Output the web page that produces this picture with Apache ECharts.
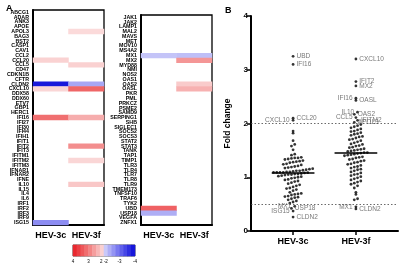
<!DOCTYPE html>
<html>
<head>
<meta charset="utf-8">
<script src="https://cdn.jsdelivr.net/npm/echarts@6/dist/echarts.min.js"></script>
<style>
  html, body { margin: 0; padding: 0; background: #fff; }
  #chart { width: 400px; height: 266px; }
</style>
</head>
<body>
<div id="chart"></div>
<script>
const strains = ["HEV-3c", "HEV-3f"];

const genesA = ["ABCG1", "ADAR", "ANK3", "APOE", "APOL3", "BAG3", "BST2", "CASP1", "CAV1", "CCL2",
  "CCL20", "CCL5", "CD47", "CDKN1B", "CFTR", "CLDN2", "CXCL10", "DDX58", "DDX60", "ETV7",
  "GBP1", "HERC1", "IFI16", "IFI27", "IFI30", "IFI44", "IFIH1", "IFIT1", "IFIT2", "IFIT3",
  "IFITM1", "IFITM2", "IFITM3", "IFNAR1", "IFNAR2", "IFNE", "IL10", "IL15", "IL4", "IL6",
  "IRF1", "IRF2", "IRF3", "IRF9", "ISG15"];

const genesB = ["JAK1", "JAK2", "LAMP1", "MAL2", "MAVS", "MET", "MOV10", "MS4A2", "MX1", "MX2",
  "MYD88", "NMI", "NOS2", "OAS1", "OAS2", "OASL", "PKR", "PML", "PRKCZ", "PSME2",
  "SAMD9", "SERPING1", "SHB", "SIGLEC1", "SOCS2", "SOCS3", "STAT2", "STAT3", "TANK", "TAP1",
  "TIMP1", "TLR3", "TLR4", "TLR7", "TLR8", "TLR9", "TMEM173", "TNFSF10", "TRAF6", "TYK2",
  "UBD", "USP18", "VEGFA", "ZNFX1"];

// genes past the cut-offs (fold change), these get labels and colour
const hits3c = { UBD: 3.25, IFI16: 3.1, CCL20: 2.1, CXCL10: 2.06,
  MX1: 0.46, USP18: 0.42, ISG15: 0.37, CLDN2: 0.26 };
const hits3f = { CXCL10: 3.2, IFIT2: 2.78, MX2: 2.7, IFI16: 2.47, OASL: 2.43, IL10: 2.21,
  OAS2: 2.17, CCL5: 2.11, IFITM2: 2.06, APOL3: 2.02, MX1: 0.45, CLDN2: 0.41 };

// all other genes (fold change)
const rest3c = [1.86, 1.82, 1.68, 1.61, 1.58, 1.51, 1.43, 1.41, 1.37, 1.36, 1.36, 1.35, 1.34, 1.33,
  1.31, 1.30, 1.29, 1.28, 1.27, 1.25, 1.24, 1.23, 1.21, 1.20, 1.19, 1.18, 1.17, 1.16, 1.15, 1.14,
  1.13, 1.12, 1.12, 1.11, 1.10, 1.10, 1.09, 1.09, 1.09, 1.09, 1.085,
  1.08, 1.07, 1.06, 1.06, 1.05, 1.05, 1.04, 1.03, 1.02, 1.01, 1.00, 0.99, 0.98, 0.96, 0.95,
  0.93, 0.92, 0.90, 0.88, 0.86, 0.84, 0.82, 0.80, 0.79, 0.77, 0.75, 0.72, 0.70, 0.69, 0.68,
  0.67, 0.65, 0.64, 0.63, 0.62, 0.60, 0.58, 0.56, 0.54, 0.52];
const rest3f = [1.98, 1.96, 1.94, 1.92, 1.90, 1.88, 1.86, 1.85, 1.83, 1.81, 1.80, 1.78, 1.76, 1.75,
  1.73, 1.71, 1.70, 1.68, 1.66, 1.64, 1.62, 1.61, 1.59, 1.58, 1.56, 1.55, 1.53, 1.52, 1.51, 1.50,
  1.49, 1.48, 1.46, 1.46, 1.45,
  1.44, 1.43, 1.42, 1.41, 1.40, 1.38, 1.37, 1.36, 1.34, 1.33, 1.31, 1.30, 1.28, 1.27, 1.25,
  1.24, 1.22, 1.20, 1.19, 1.17, 1.15, 1.14, 1.12, 1.10, 1.08, 1.06, 1.05, 1.03, 1.01, 0.99,
  0.97, 0.95, 0.93, 0.91, 0.89, 0.87, 0.84, 0.80, 0.72, 0.68, 0.60, 0.58];

const cutoffs = [2, 0.5];

// colour key
const keySteps = [3.875, 3.625, 3.375, 3.125, 2.875, 2.625, 2.375, 2.125,
  -2.125, -2.375, -2.625, -2.875, -3.125, -3.375, -3.625, -3.875];
const keyTicks = { "4": "4", "2": "3", "0": "2 -2", "-2": "-3", "-4": "-4" };

const labelLeft3c = ["CXCL10", "MX1", "ISG15"];
const labelLeft3f = ["IFI16", "IL10", "CCL5", "MX1"];

const FONT = "Liberation Sans, Arial, sans-serif";
const BIN = 0.075;
const STEP = 0.052;

// fold change -> heat value (up: fold, down: -1/fold)
function heat(f) {
  return f >= 1 ? f : -1 / f;
}

function heatCells(genes) {
  const out = [];
  [hits3c, hits3f].forEach((hits, col) => {
    genes.forEach((g, row) => {
      if (hits[g] !== undefined) out.push([col, row, +heat(hits[g]).toFixed(2)]);
    });
  });
  return out;
}

// simple beeswarm: points in the same value row are spread sideways
function swarm(hits, rest, center, leftNames) {
  const pts = Object.keys(hits).map((k) => ({ name: k, v: hits[k] }))
    .concat(rest.map((v) => ({ name: "", v: v })));
  pts.sort((a, b) => a.v - b.v);
  const rows = {};
  pts.forEach((p) => {
    const k = Math.round(p.v / BIN);
    (rows[k] = rows[k] || []).push(p);
  });
  const out = [];
  Object.keys(rows).forEach((k) => {
    const row = rows[k];
    row.forEach((p, i) => {
      const item = { name: p.name, value: [center + (i - (row.length - 1) / 2) * STEP, p.v] };
      if (p.name) {
        item.label = {
          show: true,
          position: leftNames.indexOf(p.name) >= 0 ? "left" : "right",
          distance: 2,
          formatter: "{b}",
          fontSize: 6.5,
          color: "#555",
          fontFamily: FONT,
        };
      }
      out.push(item);
    });
  });
  return out;
}

function median(hits, rest) {
  const all = Object.values(hits).concat(rest).sort((a, b) => a - b);
  const m = Math.floor(all.length / 2);
  return all.length % 2 ? all[m] : (all[m - 1] + all[m]) / 2;
}

function medianLine(c, m) {
  return {
    silent: true,
    symbol: "none",
    label: { show: false },
    lineStyle: { color: "#000", width: 1.5, type: "solid" },
    data: [[{ coord: [c - 0.34, m] }, { coord: [c + 0.34, m] }]],
  };
}

const heatAxisX = (gi) => ({
  type: "category",
  gridIndex: gi,
  data: strains,
  axisLine: { lineStyle: { color: "#000", width: 2 } },
  axisTick: { alignWithLabel: true, length: 4, lineStyle: { color: "#000", width: 1.5 } },
  axisLabel: { color: "#000", fontSize: 9, fontWeight: "bold", fontFamily: FONT, margin: 6, interval: 0, hideOverlap: false },
});

const heatAxisY = (gi, genes) => ({
  type: "category",
  gridIndex: gi,
  data: genes,
  inverse: true,
  axisLine: { lineStyle: { color: "#000", width: 2 } },
  axisTick: { alignWithLabel: true, length: 3, lineStyle: { color: "#000", width: 1.3 } },
  axisLabel: { color: "#000", fontSize: 5.3, fontWeight: "bold", fontFamily: FONT, interval: 0, margin: 4 },
});

const myChart = echarts.init(document.getElementById("chart"), null, { renderer: "canvas" });

myChart.setOption({
  animation: false,
  backgroundColor: "#fff",
  title: [
    { text: "A", left: 1, top: -1, textStyle: { fontSize: 9, fontWeight: "bold", fontFamily: FONT, color: "#000" } },
    { text: "B", left: 220, top: 1, textStyle: { fontSize: 9, fontWeight: "bold", fontFamily: FONT, color: "#000" } },
  ],
  grid: [
    { left: 33, top: 10, width: 71, height: 215, show: true, borderColor: "#000", borderWidth: 1.3 },
    { left: 141, top: 15, width: 71, height: 210, show: true, borderColor: "#000", borderWidth: 1.3 },
    { left: 73, top: 245, width: 62, height: 11, show: true, borderColor: "#222", borderWidth: 0.8 },
    { left: 251, top: 16, width: 147, height: 215 },
  ],
  visualMap: {
    show: false,
    seriesIndex: [0, 1, 2],
    min: -4,
    max: 4,
    inRange: {
      color: ["#0a0ad8", "#6c6cee", "#d6d6fa", "#ffffff", "#ffffff", "#ffffff", "#fbdcdc", "#f17878", "#e81c24"],
    },
  },
  xAxis: [
    heatAxisX(0),
    heatAxisX(1),
    { type: "category", gridIndex: 2, data: keySteps.map((v, i) => i), show: false },
    {
      type: "value",
      gridIndex: 2,
      position: "bottom",
      min: -4,
      max: 4,
      interval: 2,
      inverse: true,
      axisLine: { show: false },
      axisTick: { show: false },
      splitLine: { show: false },
      axisLabel: {
        fontSize: 4.5,
        color: "#000",
        fontFamily: FONT,
        margin: 3,
        formatter: (v) => keyTicks[String(v)],
      },
    },
    {
      type: "value",
      gridIndex: 3,
      min: 0.33,
      max: 2.67,
      splitLine: { show: false },
      axisLine: { lineStyle: { color: "#000", width: 2 } },
      axisTick: { customValues: [1, 2], length: 4, lineStyle: { color: "#000", width: 1.5 } },
      axisLabel: {
        customValues: [1, 2],
        color: "#000",
        fontSize: 9,
        fontWeight: "bold",
        fontFamily: FONT,
        margin: 6,
        formatter: (v) => strains[Math.round(v) - 1],
      },
    },
  ],
  yAxis: [
    heatAxisY(0, genesA),
    heatAxisY(1, genesB),
    { type: "category", gridIndex: 2, data: [0], show: false },
    {
      type: "value",
      gridIndex: 3,
      min: 0,
      max: 4,
      interval: 1,
      name: "Fold change",
      nameLocation: "middle",
      nameGap: 19,
      nameTextStyle: { fontSize: 8.5, fontWeight: "bold", fontFamily: FONT, color: "#000" },
      splitLine: { show: false },
      axisLine: { show: true, lineStyle: { color: "#000", width: 2 } },
      axisTick: { show: true, length: 4, lineStyle: { color: "#000", width: 1.5 } },
      axisLabel: { color: "#000", fontSize: 8, fontWeight: "bold", fontFamily: FONT, margin: 3 },
    },
  ],
  series: [
    { type: "heatmap", xAxisIndex: 0, yAxisIndex: 0, data: heatCells(genesA), emphasis: { disabled: true } },
    { type: "heatmap", xAxisIndex: 1, yAxisIndex: 1, data: heatCells(genesB), emphasis: { disabled: true } },
    {
      type: "heatmap",
      xAxisIndex: 2,
      yAxisIndex: 2,
      data: keySteps.map((v, i) => [i, 0, v]),
      emphasis: { disabled: true },
    },
    {
      type: "scatter",
      xAxisIndex: 4,
      yAxisIndex: 3,
      symbolSize: 2.8,
      itemStyle: { color: "#000" },
      data: swarm(hits3c, rest3c, 1, labelLeft3c),
      markLine: {
        silent: true,
        symbol: "none",
        label: { show: false },
        lineStyle: { color: "#444", width: 0.8, type: [1.5, 2] },
        data: cutoffs.map((c) => ({ yAxis: c })),
      },
    },
    {
      type: "scatter",
      xAxisIndex: 4,
      yAxisIndex: 3,
      symbolSize: 2.8,
      itemStyle: { color: "#000" },
      data: swarm(hits3f, rest3f, 2, labelLeft3f),
    },
    {
      type: "line",
      xAxisIndex: 4,
      yAxisIndex: 3,
      data: [],
      markLine: medianLine(1, median(hits3c, rest3c)),
    },
    {
      type: "line",
      xAxisIndex: 4,
      yAxisIndex: 3,
      data: [],
      markLine: medianLine(2, median(hits3f, rest3f)),
    },
  ],
});
</script>
</body>
</html>
